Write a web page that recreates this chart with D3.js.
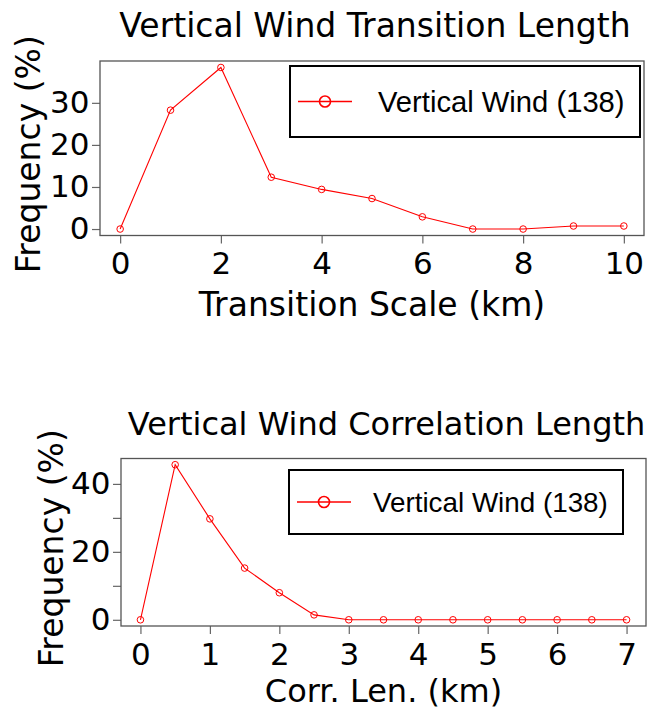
<!DOCTYPE html>
<html>
<head>
<meta charset="utf-8">
<script src="https://cdn.jsdelivr.net/npm/d3@7"></script>
<style>
  html, body { margin: 0; padding: 0; background: #fff; }
  svg { display: block; }
</style>
</head>
<body>
<script>
// ---------- data ----------
const transX = [0, 1, 2, 3, 4, 5, 6, 7, 8, 9, 10];
const transFreq = [0, 28.26, 38.41, 12.32, 9.42, 7.25, 2.90, 0, 0, 0.72, 0.72];
const transXTicks = [0, 2, 4, 6, 8, 10];
const transYTicks = [0, 10, 20, 30];

const corrX = [0, 0.5, 1, 1.5, 2, 2.5, 3, 3.5, 4, 4.5, 5, 5.5, 6, 6.5, 7];
const corrFreq = [0, 45.65, 29.71, 15.22, 7.97, 1.45, 0, 0, 0, 0, 0, 0, 0, 0, 0];
const corrXTicks = [0, 1, 2, 3, 4, 5, 6, 7];
const corrYTicks = [0, 10, 20, 30, 40];
const corrYLabels = [0, 20, 40];

const seriesName = "Vertical Wind (138)";

// ---------- drawing ----------
const W = 649, H = 711;
const svg = d3.select("body").append("svg").attr("width", W).attr("height", H);

function pad(ext) { const r = ext[1] - ext[0]; return [ext[0] - 0.04 * r, ext[1] + 0.04 * r]; }

function panel(cfg) {
  const g = svg.append("g");
  const box = cfg.box;
  const x = d3.scaleLinear().domain(pad(d3.extent(cfg.xs))).range([box.l, box.r]);
  const y = d3.scaleLinear().domain(pad(d3.extent(cfg.ys))).range([box.b, box.t]);

  // x axis
  const xa = g.append("g").attr("transform", `translate(0,${box.b})`)
    .call(d3.axisBottom(x).tickValues(cfg.xTicks).tickSize(8).tickPadding(8.5).tickFormat(d3.format("d")));
  xa.select(".domain").remove();
  xa.selectAll("line").attr("stroke", "#666").attr("stroke-width", 1.2);
  xa.selectAll("text").attr("font-family", "DejaVu Sans").attr("font-size", cfg.tickFont).attr("fill", "#000");

  // y axis
  const ya = g.append("g").attr("transform", `translate(${box.l},0)`)
    .call(d3.axisLeft(y).tickValues(cfg.yTicks).tickSize(8).tickPadding(2.5)
      .tickFormat(d => cfg.yLabels.includes(d) ? d3.format("d")(d) : ""));
  ya.select(".domain").remove();
  ya.selectAll("line").attr("stroke", "#666").attr("stroke-width", 1.2);
  ya.selectAll("text").attr("font-family", "DejaVu Sans").attr("font-size", cfg.tickFont).attr("fill", "#000");

  // plot box
  g.append("rect").attr("x", box.l).attr("y", box.t)
    .attr("width", box.r - box.l).attr("height", box.b - box.t)
    .attr("fill", "none").attr("stroke", "#555").attr("stroke-width", 1.3);

  // line + markers
  const pts = cfg.xs.map((v, i) => [v, cfg.ys[i]]);
  g.append("path").datum(pts)
    .attr("d", d3.line().x(d => x(d[0])).y(d => y(d[1])))
    .attr("fill", "none").attr("stroke", "#ff0000").attr("stroke-width", 1.1);
  g.selectAll("circle.pt").data(pts).enter().append("circle")
    .attr("class", "pt").attr("cx", d => x(d[0])).attr("cy", d => y(d[1])).attr("r", 3.3)
    .attr("fill", "none").attr("stroke", "#ff0000").attr("stroke-width", 1);

  // title
  g.append("text").attr("x", (box.l + box.r) / 2 + 3).attr("y", box.t - 23.7)
    .attr("text-anchor", "middle").attr("font-family", "DejaVu Sans")
    .attr("font-size", cfg.titleFont).text(cfg.title);

  // x label
  g.append("text").attr("x", (box.l + box.r) / 2).attr("y", box.b + cfg.xlabOff)
    .attr("text-anchor", "middle").attr("font-family", "DejaVu Sans")
    .attr("font-size", cfg.labFont).text(cfg.xlab);

  // y label
  g.append("text")
    .attr("transform", `translate(${cfg.ylabX},${(box.t + box.b) / 2 + 6}) rotate(-90)`)
    .attr("text-anchor", "middle").attr("font-family", "DejaVu Sans")
    .attr("font-size", 33).text("Frequency (%)");

  // legend
  const L = cfg.legend;
  g.append("rect").attr("x", L.x).attr("y", L.y).attr("width", L.w).attr("height", L.h)
    .attr("fill", "#fff").attr("stroke", "#000").attr("stroke-width", 2);
  const cy = L.y + L.h / 2;
  g.append("line").attr("x1", L.x + 8).attr("x2", L.x + 62).attr("y1", cy).attr("y2", cy)
    .attr("stroke", "#ff0000").attr("stroke-width", 1.5);
  g.append("circle").attr("cx", L.x + 35).attr("cy", cy).attr("r", 5.5)
    .attr("fill", "none").attr("stroke", "#ff0000").attr("stroke-width", 1.6);
  g.append("text").attr("x", L.x + L.tx).attr("y", cy + L.fs * 0.36)
    .attr("font-family", "Liberation Sans, Arial, sans-serif").attr("font-size", L.fs)
    .text(seriesName);
}

panel({
  xs: transX, ys: transFreq, xTicks: transXTicks, yTicks: transYTicks, yLabels: transYTicks,
  box: { l: 100, r: 644, t: 61, b: 235.5 },
  title: "Vertical Wind Transition Length", xlab: "Transition Scale (km)", xlabOff: 80,
  titleFont: 33, labFont: 33, tickFont: 31, ylabX: 39.5,
  legend: { x: 290, y: 66, w: 350, h: 71, tx: 88, fs: 29.2 }
});

panel({
  xs: corrX, ys: corrFreq, xTicks: corrXTicks, yTicks: corrYTicks, yLabels: corrYLabels,
  box: { l: 121, r: 646, t: 458.5, b: 626 },
  title: "Vertical Wind Correlation Length", xlab: "Corr. Len. (km)", xlabOff: 76,
  titleFont: 32, labFont: 32, tickFont: 31, ylabX: 63,
  legend: { x: 289, y: 470, w: 334, h: 64, tx: 84, fs: 27.8 }
});
</script>
</body>
</html>
